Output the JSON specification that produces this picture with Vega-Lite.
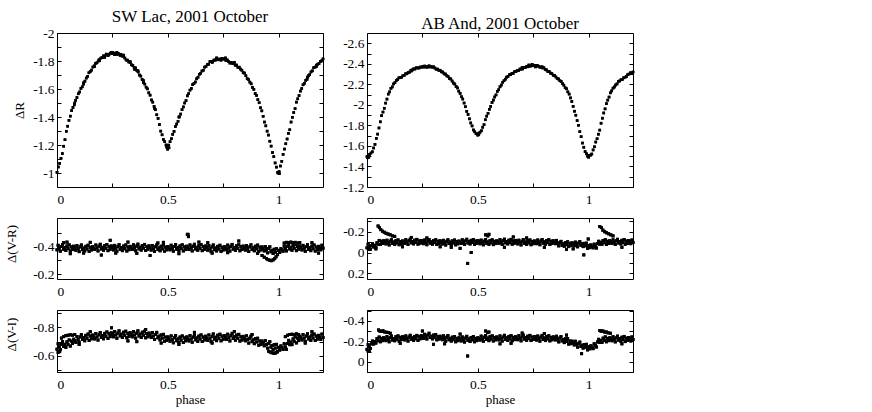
{
"$schema": "https://vega.github.io/schema/vega-lite/v6.json",
"background": "white",
"padding": {"left": 4, "top": 7, "right": 0, "bottom": 0},
"config": {
 "font": "Liberation Serif",
 "view": {"stroke": "black", "strokeWidth": 1},
 "axis": {"grid": false, "domain": false, "tickColor": "black", "tickSize": -4, "tickWidth": 1, "labelColor": "black", "titleColor": "black", "labelFont": "Liberation Serif", "titleFont": "Liberation Serif", "labelFontSize": 13.5, "titleFontSize": 13, "titleFontWeight": "normal"},
 "axisLeft": {"labelPadding": 7},
 "axisBottom": {"labelPadding": 9},
 "title": {"font": "Liberation Serif", "fontSize": 17, "fontWeight": "normal", "color": "black", "anchor": "middle", "frame": "group", "baseline": "alphabetic", "offset": 0, "dy": 4}
},
"datasets": {
"swR": [
{"p":0,"v":-1.005},{"p":0.006,"v":-1.043},{"p":0.012,"v":-1.069},{"p":0.018,"v":-1.105},{"p":0.024,"v":-1.139},{"p":0.03,"v":-1.191},{"p":0.036,"v":-1.238},{"p":0.042,"v":-1.298},{"p":0.048,"v":-1.334},{"p":0.054,"v":-1.376},{"p":0.06,"v":-1.406},{"p":0.066,"v":-1.446},{"p":0.072,"v":-1.468},{"p":0.078,"v":-1.487},{"p":0.084,"v":-1.519},{"p":0.09,"v":-1.539},{"p":0.096,"v":-1.566},{"p":0.102,"v":-1.579},{"p":0.108,"v":-1.604},{"p":0.114,"v":-1.616},{"p":0.12,"v":-1.644},{"p":0.126,"v":-1.656},{"p":0.132,"v":-1.678},{"p":0.138,"v":-1.69},{"p":0.144,"v":-1.716},{"p":0.15,"v":-1.725},{"p":0.156,"v":-1.735},{"p":0.162,"v":-1.757},{"p":0.168,"v":-1.765},{"p":0.174,"v":-1.783},{"p":0.18,"v":-1.787},{"p":0.186,"v":-1.8},{"p":0.192,"v":-1.802},{"p":0.198,"v":-1.821},{"p":0.204,"v":-1.824},{"p":0.21,"v":-1.837},{"p":0.216,"v":-1.835},{"p":0.222,"v":-1.849},{"p":0.228,"v":-1.847},{"p":0.234,"v":-1.845},{"p":0.24,"v":-1.856},{"p":0.246,"v":-1.853},{"p":0.252,"v":-1.86},{"p":0.258,"v":-1.852},{"p":0.264,"v":-1.855},{"p":0.27,"v":-1.847},{"p":0.276,"v":-1.855},{"p":0.282,"v":-1.847},{"p":0.288,"v":-1.848},{"p":0.294,"v":-1.835},{"p":0.3,"v":-1.836},{"p":0.306,"v":-1.821},{"p":0.312,"v":-1.807},{"p":0.318,"v":-1.806},{"p":0.324,"v":-1.793},{"p":0.33,"v":-1.79},{"p":0.336,"v":-1.773},{"p":0.342,"v":-1.768},{"p":0.348,"v":-1.752},{"p":0.354,"v":-1.751},{"p":0.36,"v":-1.733},{"p":0.366,"v":-1.722},{"p":0.372,"v":-1.7},{"p":0.378,"v":-1.692},{"p":0.384,"v":-1.668},{"p":0.39,"v":-1.645},{"p":0.396,"v":-1.635},{"p":0.402,"v":-1.613},{"p":0.408,"v":-1.601},{"p":0.414,"v":-1.573},{"p":0.42,"v":-1.556},{"p":0.426,"v":-1.522},{"p":0.432,"v":-1.506},{"p":0.438,"v":-1.476},{"p":0.444,"v":-1.452},{"p":0.45,"v":-1.416},{"p":0.456,"v":-1.39},{"p":0.462,"v":-1.346},{"p":0.468,"v":-1.299},{"p":0.474,"v":-1.273},{"p":0.48,"v":-1.239},{"p":0.486,"v":-1.224},{"p":0.492,"v":-1.2},{"p":0.498,"v":-1.198},{"p":0.504,"v":-1.199},{"p":0.51,"v":-1.224},{"p":0.516,"v":-1.245},{"p":0.522,"v":-1.276},{"p":0.528,"v":-1.297},{"p":0.534,"v":-1.332},{"p":0.54,"v":-1.35},{"p":0.546,"v":-1.369},{"p":0.552,"v":-1.401},{"p":0.558,"v":-1.421},{"p":0.564,"v":-1.453},{"p":0.57,"v":-1.472},{"p":0.576,"v":-1.5},{"p":0.582,"v":-1.517},{"p":0.588,"v":-1.551},{"p":0.594,"v":-1.567},{"p":0.6,"v":-1.592},{"p":0.606,"v":-1.604},{"p":0.612,"v":-1.631},{"p":0.618,"v":-1.64},{"p":0.624,"v":-1.65},{"p":0.63,"v":-1.673},{"p":0.636,"v":-1.684},{"p":0.642,"v":-1.705},{"p":0.648,"v":-1.712},{"p":0.654,"v":-1.729},{"p":0.66,"v":-1.734},{"p":0.666,"v":-1.756},{"p":0.672,"v":-1.761},{"p":0.678,"v":-1.774},{"p":0.684,"v":-1.777},{"p":0.69,"v":-1.796},{"p":0.696,"v":-1.796},{"p":0.702,"v":-1.796},{"p":0.708,"v":-1.807},{"p":0.714,"v":-1.806},{"p":0.72,"v":-1.815},{"p":0.726,"v":-1.809},{"p":0.732,"v":-1.814},{"p":0.738,"v":-1.809},{"p":0.744,"v":-1.819},{"p":0.75,"v":-1.814},{"p":0.756,"v":-1.814},{"p":0.762,"v":-1.804},{"p":0.768,"v":-1.808},{"p":0.774,"v":-1.796},{"p":0.78,"v":-1.785},{"p":0.786,"v":-1.79},{"p":0.792,"v":-1.782},{"p":0.798,"v":-1.782},{"p":0.804,"v":-1.77},{"p":0.81,"v":-1.771},{"p":0.816,"v":-1.755},{"p":0.822,"v":-1.756},{"p":0.828,"v":-1.742},{"p":0.834,"v":-1.734},{"p":0.84,"v":-1.716},{"p":0.846,"v":-1.714},{"p":0.852,"v":-1.695},{"p":0.858,"v":-1.675},{"p":0.864,"v":-1.668},{"p":0.87,"v":-1.649},{"p":0.876,"v":-1.637},{"p":0.882,"v":-1.611},{"p":0.888,"v":-1.597},{"p":0.894,"v":-1.568},{"p":0.9,"v":-1.554},{"p":0.906,"v":-1.524},{"p":0.912,"v":-1.502},{"p":0.918,"v":-1.466},{"p":0.924,"v":-1.444},{"p":0.93,"v":-1.405},{"p":0.936,"v":-1.364},{"p":0.942,"v":-1.337},{"p":0.948,"v":-1.299},{"p":0.954,"v":-1.271},{"p":0.96,"v":-1.227},{"p":0.966,"v":-1.192},{"p":0.972,"v":-1.146},{"p":0.978,"v":-1.117},{"p":0.984,"v":-1.072},{"p":0.99,"v":-1.042},{"p":0.996,"v":-1.005},{"p":1.002,"v":-1.01},{"p":1.008,"v":-1.05},{"p":1.014,"v":-1.083},{"p":1.02,"v":-1.133},{"p":1.026,"v":-1.171},{"p":1.032,"v":-1.209},{"p":1.038,"v":-1.243},{"p":1.044,"v":-1.283},{"p":1.05,"v":-1.309},{"p":1.056,"v":-1.364},{"p":1.062,"v":-1.398},{"p":1.068,"v":-1.432},{"p":1.074,"v":-1.46},{"p":1.08,"v":-1.506},{"p":1.086,"v":-1.53},{"p":1.092,"v":-1.553},{"p":1.098,"v":-1.585},{"p":1.104,"v":-1.603},{"p":1.11,"v":-1.63},{"p":1.116,"v":-1.64},{"p":1.122,"v":-1.661},{"p":1.128,"v":-1.669},{"p":1.134,"v":-1.694},{"p":1.14,"v":-1.703},{"p":1.146,"v":-1.722},{"p":1.152,"v":-1.73},{"p":1.158,"v":-1.752},{"p":1.164,"v":-1.756},{"p":1.17,"v":-1.76},{"p":1.176,"v":-1.777},{"p":1.182,"v":-1.782},{"p":1.188,"v":-1.797},{"p":1.194,"v":-1.801},{"p":1.2,"v":-1.815},
{"p":0.23,"v":-1.838},{"p":0.245,"v":-1.862},{"p":0.26,"v":-1.845},{"p":0.27,"v":-1.862},{"p":0.285,"v":-1.84},{"p":0.215,"v":-1.826},{"p":0.3,"v":-1.842},{"p":0.33,"v":-1.795},{"p":0.35,"v":-1.74},{"p":0.365,"v":-1.73},{"p":0.499,"v":-1.17},{"p":0.495,"v":-1.185},{"p":0.505,"v":-1.18},{"p":0.72,"v":-1.822},{"p":0.74,"v":-1.806},{"p":0.76,"v":-1.822},{"p":0.7,"v":-1.79},{"p":0.8,"v":-1.79},{"p":0.55,"v":-1.4},{"p":0.997,"v":-1.0},{"p":1.003,"v":-0.995},{"p":0.39,"v":-1.66},{"p":0.44,"v":-1.46},{"p":1.13,"v":-1.685},{"p":1.17,"v":-1.77},{"p":0.17,"v":-1.76},{"p":0.19,"v":-1.81},{"p":0.12,"v":-1.635},{"p":0.08,"v":-1.5}
],
"abR": [
{"p":0,"v":-1.496},{"p":0.006,"v":-1.512},{"p":0.012,"v":-1.516},{"p":0.018,"v":-1.531},{"p":0.024,"v":-1.543},{"p":0.03,"v":-1.58},{"p":0.036,"v":-1.615},{"p":0.042,"v":-1.674},{"p":0.048,"v":-1.715},{"p":0.054,"v":-1.775},{"p":0.06,"v":-1.835},{"p":0.066,"v":-1.895},{"p":0.072,"v":-1.93},{"p":0.078,"v":-1.967},{"p":0.084,"v":-2.017},{"p":0.09,"v":-2.056},{"p":0.096,"v":-2.105},{"p":0.102,"v":-2.127},{"p":0.108,"v":-2.161},{"p":0.114,"v":-2.175},{"p":0.12,"v":-2.204},{"p":0.126,"v":-2.216},{"p":0.132,"v":-2.236},{"p":0.138,"v":-2.247},{"p":0.144,"v":-2.263},{"p":0.15,"v":-2.266},{"p":0.156,"v":-2.269},{"p":0.162,"v":-2.284},{"p":0.168,"v":-2.288},{"p":0.174,"v":-2.303},{"p":0.18,"v":-2.303},{"p":0.186,"v":-2.316},{"p":0.192,"v":-2.319},{"p":0.198,"v":-2.337},{"p":0.204,"v":-2.34},{"p":0.21,"v":-2.35},{"p":0.216,"v":-2.349},{"p":0.222,"v":-2.361},{"p":0.228,"v":-2.36},{"p":0.234,"v":-2.359},{"p":0.24,"v":-2.368},{"p":0.246,"v":-2.367},{"p":0.252,"v":-2.375},{"p":0.258,"v":-2.368},{"p":0.264,"v":-2.372},{"p":0.27,"v":-2.366},{"p":0.276,"v":-2.375},{"p":0.282,"v":-2.369},{"p":0.288,"v":-2.372},{"p":0.294,"v":-2.367},{"p":0.3,"v":-2.371},{"p":0.306,"v":-2.359},{"p":0.312,"v":-2.348},{"p":0.318,"v":-2.348},{"p":0.324,"v":-2.337},{"p":0.33,"v":-2.337},{"p":0.336,"v":-2.322},{"p":0.342,"v":-2.319},{"p":0.348,"v":-2.302},{"p":0.354,"v":-2.3},{"p":0.36,"v":-2.283},{"p":0.366,"v":-2.275},{"p":0.372,"v":-2.257},{"p":0.378,"v":-2.252},{"p":0.384,"v":-2.232},{"p":0.39,"v":-2.212},{"p":0.396,"v":-2.203},{"p":0.402,"v":-2.179},{"p":0.408,"v":-2.165},{"p":0.414,"v":-2.134},{"p":0.42,"v":-2.112},{"p":0.426,"v":-2.08},{"p":0.432,"v":-2.057},{"p":0.438,"v":-2.018},{"p":0.444,"v":-1.982},{"p":0.45,"v":-1.937},{"p":0.456,"v":-1.907},{"p":0.462,"v":-1.864},{"p":0.468,"v":-1.824},{"p":0.474,"v":-1.795},{"p":0.48,"v":-1.756},{"p":0.486,"v":-1.738},{"p":0.492,"v":-1.719},{"p":0.498,"v":-1.717},{"p":0.504,"v":-1.711},{"p":0.51,"v":-1.734},{"p":0.516,"v":-1.748},{"p":0.522,"v":-1.782},{"p":0.528,"v":-1.807},{"p":0.534,"v":-1.855},{"p":0.54,"v":-1.89},{"p":0.546,"v":-1.918},{"p":0.552,"v":-1.957},{"p":0.558,"v":-1.985},{"p":0.564,"v":-2.023},{"p":0.57,"v":-2.047},{"p":0.576,"v":-2.077},{"p":0.582,"v":-2.097},{"p":0.588,"v":-2.132},{"p":0.594,"v":-2.148},{"p":0.6,"v":-2.176},{"p":0.606,"v":-2.193},{"p":0.612,"v":-2.22},{"p":0.618,"v":-2.235},{"p":0.624,"v":-2.25},{"p":0.63,"v":-2.27},{"p":0.636,"v":-2.277},{"p":0.642,"v":-2.293},{"p":0.648,"v":-2.295},{"p":0.654,"v":-2.307},{"p":0.66,"v":-2.308},{"p":0.666,"v":-2.324},{"p":0.672,"v":-2.325},{"p":0.678,"v":-2.336},{"p":0.684,"v":-2.336},{"p":0.69,"v":-2.349},{"p":0.696,"v":-2.349},{"p":0.702,"v":-2.35},{"p":0.708,"v":-2.362},{"p":0.714,"v":-2.363},{"p":0.72,"v":-2.374},{"p":0.726,"v":-2.371},{"p":0.732,"v":-2.379},{"p":0.738,"v":-2.378},{"p":0.744,"v":-2.388},{"p":0.75,"v":-2.381},{"p":0.756,"v":-2.384},{"p":0.762,"v":-2.378},{"p":0.768,"v":-2.385},{"p":0.774,"v":-2.376},{"p":0.78,"v":-2.367},{"p":0.786,"v":-2.369},{"p":0.792,"v":-2.36},{"p":0.798,"v":-2.361},{"p":0.804,"v":-2.345},{"p":0.81,"v":-2.34},{"p":0.816,"v":-2.325},{"p":0.822,"v":-2.325},{"p":0.828,"v":-2.309},{"p":0.834,"v":-2.304},{"p":0.84,"v":-2.289},{"p":0.846,"v":-2.287},{"p":0.852,"v":-2.272},{"p":0.858,"v":-2.258},{"p":0.864,"v":-2.252},{"p":0.87,"v":-2.235},{"p":0.876,"v":-2.228},{"p":0.882,"v":-2.207},{"p":0.888,"v":-2.192},{"p":0.894,"v":-2.167},{"p":0.9,"v":-2.157},{"p":0.906,"v":-2.127},{"p":0.912,"v":-2.105},{"p":0.918,"v":-2.068},{"p":0.924,"v":-2.033},{"p":0.93,"v":-1.985},{"p":0.936,"v":-1.938},{"p":0.942,"v":-1.899},{"p":0.948,"v":-1.847},{"p":0.954,"v":-1.801},{"p":0.96,"v":-1.739},{"p":0.966,"v":-1.69},{"p":0.972,"v":-1.628},{"p":0.978,"v":-1.587},{"p":0.984,"v":-1.545},{"p":0.99,"v":-1.524},{"p":0.996,"v":-1.504},{"p":1.002,"v":-1.508},{"p":1.008,"v":-1.51},{"p":1.014,"v":-1.521},{"p":1.02,"v":-1.561},{"p":1.026,"v":-1.592},{"p":1.032,"v":-1.638},{"p":1.038,"v":-1.67},{"p":1.044,"v":-1.714},{"p":1.05,"v":-1.754},{"p":1.056,"v":-1.821},{"p":1.062,"v":-1.87},{"p":1.068,"v":-1.921},{"p":1.074,"v":-1.961},{"p":1.08,"v":-2.012},{"p":1.086,"v":-2.046},{"p":1.092,"v":-2.076},{"p":1.098,"v":-2.117},{"p":1.104,"v":-2.137},{"p":1.11,"v":-2.163},{"p":1.116,"v":-2.174},{"p":1.122,"v":-2.194},{"p":1.128,"v":-2.204},{"p":1.134,"v":-2.229},{"p":1.14,"v":-2.233},{"p":1.146,"v":-2.245},{"p":1.152,"v":-2.248},{"p":1.158,"v":-2.264},{"p":1.164,"v":-2.269},{"p":1.17,"v":-2.276},{"p":1.176,"v":-2.294},{"p":1.182,"v":-2.3},{"p":1.188,"v":-2.312},{"p":1.194,"v":-2.311},{"p":1.2,"v":-2.32},
{"p":0.003,"v":-1.485},{"p":0.008,"v":-1.49},{"p":0.26,"v":-2.378},{"p":0.28,"v":-2.38},{"p":0.745,"v":-2.395},{"p":0.73,"v":-2.388},{"p":0.76,"v":-2.37},{"p":0.5,"v":-1.705},{"p":0.505,"v":-1.724},{"p":1.0,"v":-1.49},{"p":0.997,"v":-1.495},{"p":0.2,"v":-2.33},{"p":0.7,"v":-2.365},{"p":0.79,"v":-2.37}
],
"swVR": [
{"p":0,"v":-0.376},{"p":0.005,"v":-0.409},{"p":0.01,"v":-0.388},{"p":0.015,"v":-0.366},{"p":0.02,"v":-0.4},{"p":0.025,"v":-0.414},{"p":0.03,"v":-0.38},{"p":0.035,"v":-0.392},{"p":0.04,"v":-0.371},{"p":0.045,"v":-0.404},{"p":0.05,"v":-0.385},{"p":0.055,"v":-0.412},{"p":0.06,"v":-0.368},{"p":0.065,"v":-0.397},{"p":0.07,"v":-0.378},{"p":0.075,"v":-0.402},{"p":0.08,"v":-0.39},
{"p":0.085,"v":-0.373},{"p":0.09,"v":-0.406},{"p":0.095,"v":-0.385},{"p":0.1,"v":-0.363},{"p":0.105,"v":-0.397},{"p":0.11,"v":-0.411},{"p":0.115,"v":-0.377},{"p":0.12,"v":-0.389},{"p":0.125,"v":-0.368},{"p":0.13,"v":-0.401},{"p":0.135,"v":-0.382},{"p":0.14,"v":-0.409},{"p":0.145,"v":-0.365},{"p":0.15,"v":-0.394},{"p":0.155,"v":-0.375},{"p":0.16,"v":-0.399},{"p":0.165,"v":-0.387},
{"p":0.17,"v":-0.378},{"p":0.175,"v":-0.411},{"p":0.18,"v":-0.39},{"p":0.185,"v":-0.368},{"p":0.19,"v":-0.402},{"p":0.195,"v":-0.416},{"p":0.2,"v":-0.382},{"p":0.205,"v":-0.394},{"p":0.21,"v":-0.373},{"p":0.215,"v":-0.406},{"p":0.22,"v":-0.387},{"p":0.225,"v":-0.414},{"p":0.23,"v":-0.37},{"p":0.235,"v":-0.399},{"p":0.24,"v":-0.38},{"p":0.245,"v":-0.404},{"p":0.25,"v":-0.392},
{"p":0.255,"v":-0.375},{"p":0.26,"v":-0.408},{"p":0.265,"v":-0.387},{"p":0.27,"v":-0.365},{"p":0.275,"v":-0.399},{"p":0.28,"v":-0.413},{"p":0.285,"v":-0.379},{"p":0.29,"v":-0.391},{"p":0.295,"v":-0.37},{"p":0.3,"v":-0.403},{"p":0.305,"v":-0.384},{"p":0.31,"v":-0.411},{"p":0.315,"v":-0.367},{"p":0.32,"v":-0.396},{"p":0.325,"v":-0.377},{"p":0.33,"v":-0.401},{"p":0.335,"v":-0.389},
{"p":0.34,"v":-0.379},{"p":0.345,"v":-0.412},{"p":0.35,"v":-0.391},{"p":0.355,"v":-0.369},{"p":0.36,"v":-0.403},{"p":0.365,"v":-0.417},{"p":0.37,"v":-0.383},{"p":0.375,"v":-0.395},{"p":0.38,"v":-0.374},{"p":0.385,"v":-0.407},{"p":0.39,"v":-0.388},{"p":0.395,"v":-0.415},{"p":0.4,"v":-0.371},{"p":0.405,"v":-0.4},{"p":0.41,"v":-0.381},{"p":0.415,"v":-0.405},{"p":0.42,"v":-0.393},
{"p":0.425,"v":-0.374},{"p":0.43,"v":-0.407},{"p":0.435,"v":-0.386},{"p":0.44,"v":-0.364},{"p":0.445,"v":-0.398},{"p":0.45,"v":-0.412},{"p":0.455,"v":-0.378},{"p":0.46,"v":-0.39},{"p":0.465,"v":-0.369},{"p":0.47,"v":-0.402},{"p":0.475,"v":-0.383},{"p":0.48,"v":-0.41},{"p":0.485,"v":-0.366},{"p":0.49,"v":-0.395},{"p":0.495,"v":-0.376},{"p":0.5,"v":-0.4},{"p":0.505,"v":-0.388},
{"p":0.51,"v":-0.376},{"p":0.515,"v":-0.409},{"p":0.52,"v":-0.388},{"p":0.525,"v":-0.366},{"p":0.53,"v":-0.4},{"p":0.535,"v":-0.414},{"p":0.54,"v":-0.38},{"p":0.545,"v":-0.392},{"p":0.55,"v":-0.371},{"p":0.555,"v":-0.404},{"p":0.56,"v":-0.385},{"p":0.565,"v":-0.412},{"p":0.57,"v":-0.368},{"p":0.575,"v":-0.397},{"p":0.58,"v":-0.378},{"p":0.585,"v":-0.402},{"p":0.59,"v":-0.39},
{"p":0.595,"v":-0.378},{"p":0.6,"v":-0.411},{"p":0.605,"v":-0.39},{"p":0.61,"v":-0.368},{"p":0.615,"v":-0.402},{"p":0.62,"v":-0.416},{"p":0.625,"v":-0.382},{"p":0.63,"v":-0.394},{"p":0.635,"v":-0.373},{"p":0.64,"v":-0.406},{"p":0.645,"v":-0.387},{"p":0.65,"v":-0.414},{"p":0.655,"v":-0.37},{"p":0.66,"v":-0.399},{"p":0.665,"v":-0.38},{"p":0.67,"v":-0.404},{"p":0.675,"v":-0.392},
{"p":0.68,"v":-0.373},{"p":0.685,"v":-0.406},{"p":0.69,"v":-0.385},{"p":0.695,"v":-0.363},{"p":0.7,"v":-0.397},{"p":0.705,"v":-0.411},{"p":0.71,"v":-0.377},{"p":0.715,"v":-0.389},{"p":0.72,"v":-0.368},{"p":0.725,"v":-0.401},{"p":0.73,"v":-0.382},{"p":0.735,"v":-0.409},{"p":0.74,"v":-0.365},{"p":0.745,"v":-0.394},{"p":0.75,"v":-0.375},{"p":0.755,"v":-0.399},{"p":0.76,"v":-0.387},
{"p":0.765,"v":-0.377},{"p":0.77,"v":-0.41},{"p":0.775,"v":-0.389},{"p":0.78,"v":-0.367},{"p":0.785,"v":-0.401},{"p":0.79,"v":-0.415},{"p":0.795,"v":-0.381},{"p":0.8,"v":-0.393},{"p":0.805,"v":-0.372},{"p":0.81,"v":-0.405},{"p":0.815,"v":-0.386},{"p":0.82,"v":-0.413},{"p":0.825,"v":-0.369},{"p":0.83,"v":-0.398},{"p":0.835,"v":-0.379},{"p":0.84,"v":-0.403},{"p":0.845,"v":-0.391},
{"p":0.85,"v":-0.374},{"p":0.855,"v":-0.407},{"p":0.86,"v":-0.386},{"p":0.865,"v":-0.364},{"p":0.87,"v":-0.398},{"p":0.875,"v":-0.412},{"p":0.88,"v":-0.378},{"p":0.885,"v":-0.39},{"p":0.89,"v":-0.369},{"p":0.895,"v":-0.402},{"p":0.9,"v":-0.383},{"p":0.905,"v":-0.41},{"p":0.91,"v":-0.366},{"p":0.915,"v":-0.395},{"p":0.92,"v":-0.375},{"p":0.925,"v":-0.397},{"p":0.93,"v":-0.384},
{"p":0.935,"v":-0.368},{"p":0.94,"v":-0.4},{"p":0.945,"v":-0.377},{"p":0.95,"v":-0.354},{"p":0.955,"v":-0.386},{"p":0.96,"v":-0.398},{"p":0.965,"v":-0.362},{"p":0.97,"v":-0.372},{"p":0.975,"v":-0.349},{"p":0.98,"v":-0.38},{"p":0.985,"v":-0.359},{"p":0.99,"v":-0.384},{"p":0.995,"v":-0.341},{"p":1,"v":-0.372},{"p":1.005,"v":-0.357},{"p":1.01,"v":-0.384},{"p":1.015,"v":-0.376},
{"p":1.02,"v":-0.366},{"p":1.025,"v":-0.403},{"p":1.03,"v":-0.385},{"p":1.035,"v":-0.368},{"p":1.04,"v":-0.402},{"p":1.045,"v":-0.416},{"p":1.05,"v":-0.382},{"p":1.055,"v":-0.394},{"p":1.06,"v":-0.373},{"p":1.065,"v":-0.406},{"p":1.07,"v":-0.387},{"p":1.075,"v":-0.414},{"p":1.08,"v":-0.37},{"p":1.085,"v":-0.399},{"p":1.09,"v":-0.38},{"p":1.095,"v":-0.404},{"p":1.1,"v":-0.392},
{"p":1.105,"v":-0.375},{"p":1.11,"v":-0.408},{"p":1.115,"v":-0.387},{"p":1.12,"v":-0.365},{"p":1.125,"v":-0.399},{"p":1.13,"v":-0.413},{"p":1.135,"v":-0.379},{"p":1.14,"v":-0.391},{"p":1.145,"v":-0.37},{"p":1.15,"v":-0.403},{"p":1.155,"v":-0.384},{"p":1.16,"v":-0.411},{"p":1.165,"v":-0.367},{"p":1.17,"v":-0.396},{"p":1.175,"v":-0.377},{"p":1.18,"v":-0.401},{"p":1.185,"v":-0.389},
{"p":1.19,"v":-0.376},{"p":1.195,"v":-0.409},{"p":1.2,"v":-0.388},
{"p":0.925,"v":-0.335},{"p":0.935,"v":-0.322},{"p":0.945,"v":-0.312},{"p":0.952,"v":-0.305},{"p":0.96,"v":-0.3},{"p":0.967,"v":-0.297},{"p":0.975,"v":-0.303},{"p":0.982,"v":-0.312},{"p":0.988,"v":-0.325},{"p":1.025,"v":-0.425},{"p":1.035,"v":-0.43},{"p":1.045,"v":-0.428},{"p":1.055,"v":-0.432},{"p":1.065,"v":-0.427},{"p":1.075,"v":-0.43},{"p":1.085,"v":-0.425},{"p":1.095,"v":-0.428},{"p":0.588,"v":-0.488},{"p":0.591,"v":-0.488},{"p":0.593,"v":-0.472},{"p":0.24,"v":-0.445},{"p":0.42,"v":-0.335},{"p":0.2,"v":-0.338},{"p":0.82,"v":-0.44},{"p":0.06,"v":-0.348},{"p":0.36,"v":-0.35},{"p":0.7,"v":-0.352},{"p":0.15,"v":-0.43},{"p":0.48,"v":-0.43},{"p":0.64,"v":-0.432},{"p":1.15,"v":-0.428},{"p":0.905,"v":-0.35},{"p":0.32,"v":-0.432},{"p":0.03,"v":-0.428},{"p":0.045,"v":-0.432},{"p":0.55,"v":-0.348},{"p":0.265,"v":-0.352},{"p":0.77,"v":-0.355},{"p":0.455,"v":-0.426},{"p":1.18,"v":-0.352},{"p":0.12,"v":-0.352},{"p":0.68,"v":-0.428}
],
"abVR": [
{"p":0,"v":-0.045},{"p":0.005,"v":-0.079},{"p":0.01,"v":-0.055},{"p":0.015,"v":-0.031},{"p":0.02,"v":-0.065},{"p":0.025,"v":-0.084},{"p":0.03,"v":-0.053},{"p":0.035,"v":-0.069},{"p":0.04,"v":-0.05},{"p":0.045,"v":-0.093},{"p":0.05,"v":-0.08},{"p":0.055,"v":-0.116},{"p":0.06,"v":-0.077},{"p":0.065,"v":-0.108},{"p":0.07,"v":-0.087},{"p":0.075,"v":-0.113},{"p":0.08,"v":-0.1},
{"p":0.085,"v":-0.083},{"p":0.09,"v":-0.118},{"p":0.095,"v":-0.095},{"p":0.1,"v":-0.073},{"p":0.105,"v":-0.108},{"p":0.11,"v":-0.123},{"p":0.115,"v":-0.088},{"p":0.12,"v":-0.101},{"p":0.125,"v":-0.078},{"p":0.13,"v":-0.113},{"p":0.135,"v":-0.093},{"p":0.14,"v":-0.121},{"p":0.145,"v":-0.075},{"p":0.15,"v":-0.106},{"p":0.155,"v":-0.085},{"p":0.16,"v":-0.111},{"p":0.165,"v":-0.098},
{"p":0.17,"v":-0.088},{"p":0.175,"v":-0.123},{"p":0.18,"v":-0.1},{"p":0.185,"v":-0.078},{"p":0.19,"v":-0.113},{"p":0.195,"v":-0.128},{"p":0.2,"v":-0.093},{"p":0.205,"v":-0.106},{"p":0.21,"v":-0.083},{"p":0.215,"v":-0.118},{"p":0.22,"v":-0.098},{"p":0.225,"v":-0.126},{"p":0.23,"v":-0.08},{"p":0.235,"v":-0.111},{"p":0.24,"v":-0.09},{"p":0.245,"v":-0.116},{"p":0.25,"v":-0.103},
{"p":0.255,"v":-0.085},{"p":0.26,"v":-0.12},{"p":0.265,"v":-0.097},{"p":0.27,"v":-0.075},{"p":0.275,"v":-0.11},{"p":0.28,"v":-0.125},{"p":0.285,"v":-0.09},{"p":0.29,"v":-0.103},{"p":0.295,"v":-0.08},{"p":0.3,"v":-0.115},{"p":0.305,"v":-0.095},{"p":0.31,"v":-0.123},{"p":0.315,"v":-0.077},{"p":0.32,"v":-0.108},{"p":0.325,"v":-0.087},{"p":0.33,"v":-0.113},{"p":0.335,"v":-0.1},
{"p":0.34,"v":-0.082},{"p":0.345,"v":-0.117},{"p":0.35,"v":-0.094},{"p":0.355,"v":-0.072},{"p":0.36,"v":-0.107},{"p":0.365,"v":-0.122},{"p":0.37,"v":-0.087},{"p":0.375,"v":-0.1},{"p":0.38,"v":-0.077},{"p":0.385,"v":-0.112},{"p":0.39,"v":-0.092},{"p":0.395,"v":-0.12},{"p":0.4,"v":-0.074},{"p":0.405,"v":-0.105},{"p":0.41,"v":-0.084},{"p":0.415,"v":-0.11},{"p":0.42,"v":-0.097},
{"p":0.425,"v":-0.087},{"p":0.43,"v":-0.122},{"p":0.435,"v":-0.099},{"p":0.44,"v":-0.077},{"p":0.445,"v":-0.112},{"p":0.45,"v":-0.127},{"p":0.455,"v":-0.092},{"p":0.46,"v":-0.105},{"p":0.465,"v":-0.082},{"p":0.47,"v":-0.117},{"p":0.475,"v":-0.097},{"p":0.48,"v":-0.125},{"p":0.485,"v":-0.079},{"p":0.49,"v":-0.11},{"p":0.495,"v":-0.089},{"p":0.5,"v":-0.115},{"p":0.505,"v":-0.102},
{"p":0.51,"v":-0.084},{"p":0.515,"v":-0.119},{"p":0.52,"v":-0.096},{"p":0.525,"v":-0.074},{"p":0.53,"v":-0.109},{"p":0.535,"v":-0.124},{"p":0.54,"v":-0.089},{"p":0.545,"v":-0.102},{"p":0.55,"v":-0.079},{"p":0.555,"v":-0.114},{"p":0.56,"v":-0.094},{"p":0.565,"v":-0.122},{"p":0.57,"v":-0.076},{"p":0.575,"v":-0.107},{"p":0.58,"v":-0.086},{"p":0.585,"v":-0.112},{"p":0.59,"v":-0.099},
{"p":0.595,"v":-0.088},{"p":0.6,"v":-0.123},{"p":0.605,"v":-0.1},{"p":0.61,"v":-0.078},{"p":0.615,"v":-0.113},{"p":0.62,"v":-0.128},{"p":0.625,"v":-0.093},{"p":0.63,"v":-0.106},{"p":0.635,"v":-0.083},{"p":0.64,"v":-0.118},{"p":0.645,"v":-0.098},{"p":0.65,"v":-0.126},{"p":0.655,"v":-0.08},{"p":0.66,"v":-0.111},{"p":0.665,"v":-0.09},{"p":0.67,"v":-0.116},{"p":0.675,"v":-0.103},
{"p":0.68,"v":-0.083},{"p":0.685,"v":-0.118},{"p":0.69,"v":-0.095},{"p":0.695,"v":-0.073},{"p":0.7,"v":-0.108},{"p":0.705,"v":-0.123},{"p":0.71,"v":-0.088},{"p":0.715,"v":-0.101},{"p":0.72,"v":-0.078},{"p":0.725,"v":-0.113},{"p":0.73,"v":-0.093},{"p":0.735,"v":-0.121},{"p":0.74,"v":-0.075},{"p":0.745,"v":-0.106},{"p":0.75,"v":-0.085},{"p":0.755,"v":-0.111},{"p":0.76,"v":-0.098},
{"p":0.765,"v":-0.085},{"p":0.77,"v":-0.12},{"p":0.775,"v":-0.097},{"p":0.78,"v":-0.075},{"p":0.785,"v":-0.11},{"p":0.79,"v":-0.125},{"p":0.795,"v":-0.09},{"p":0.8,"v":-0.103},{"p":0.805,"v":-0.08},{"p":0.81,"v":-0.115},{"p":0.815,"v":-0.095},{"p":0.82,"v":-0.123},{"p":0.825,"v":-0.077},{"p":0.83,"v":-0.108},{"p":0.835,"v":-0.087},{"p":0.84,"v":-0.113},{"p":0.845,"v":-0.1},
{"p":0.85,"v":-0.085},{"p":0.855,"v":-0.116},{"p":0.86,"v":-0.09},{"p":0.865,"v":-0.064},{"p":0.87,"v":-0.095},{"p":0.875,"v":-0.107},{"p":0.88,"v":-0.07},{"p":0.885,"v":-0.083},{"p":0.89,"v":-0.06},{"p":0.895,"v":-0.095},{"p":0.9,"v":-0.075},{"p":0.905,"v":-0.103},{"p":0.91,"v":-0.057},{"p":0.915,"v":-0.088},{"p":0.92,"v":-0.067},{"p":0.925,"v":-0.093},{"p":0.93,"v":-0.08},
{"p":0.935,"v":-0.065},{"p":0.94,"v":-0.1},{"p":0.945,"v":-0.077},{"p":0.95,"v":-0.055},{"p":0.955,"v":-0.09},{"p":0.96,"v":-0.105},{"p":0.965,"v":-0.07},{"p":0.97,"v":-0.083},{"p":0.975,"v":-0.057},{"p":0.98,"v":-0.088},{"p":0.985,"v":-0.065},{"p":0.99,"v":-0.09},{"p":0.995,"v":-0.04},{"p":1,"v":-0.068},{"p":1.005,"v":-0.047},{"p":1.01,"v":-0.073},{"p":1.015,"v":-0.06},
{"p":1.02,"v":-0.045},{"p":1.025,"v":-0.08},{"p":1.03,"v":-0.057},{"p":1.035,"v":-0.043},{"p":1.04,"v":-0.085},{"p":1.045,"v":-0.108},{"p":1.05,"v":-0.08},{"p":1.055,"v":-0.098},{"p":1.06,"v":-0.08},{"p":1.065,"v":-0.115},{"p":1.07,"v":-0.095},{"p":1.075,"v":-0.123},{"p":1.08,"v":-0.077},{"p":1.085,"v":-0.108},{"p":1.09,"v":-0.087},{"p":1.095,"v":-0.113},{"p":1.1,"v":-0.1},
{"p":1.105,"v":-0.087},{"p":1.11,"v":-0.122},{"p":1.115,"v":-0.099},{"p":1.12,"v":-0.077},{"p":1.125,"v":-0.112},{"p":1.13,"v":-0.127},{"p":1.135,"v":-0.092},{"p":1.14,"v":-0.105},{"p":1.145,"v":-0.082},{"p":1.15,"v":-0.117},{"p":1.155,"v":-0.097},{"p":1.16,"v":-0.125},{"p":1.165,"v":-0.079},{"p":1.17,"v":-0.11},{"p":1.175,"v":-0.089},{"p":1.18,"v":-0.115},{"p":1.185,"v":-0.102},
{"p":1.19,"v":-0.085},{"p":1.195,"v":-0.12},{"p":1.2,"v":-0.097},
{"p":0.05,"v":-0.255},{"p":0.056,"v":-0.24},{"p":0.062,"v":-0.22},{"p":0.07,"v":-0.205},{"p":0.078,"v":-0.195},{"p":0.086,"v":-0.185},{"p":0.095,"v":-0.178},{"p":0.105,"v":-0.17},{"p":0.115,"v":-0.16},{"p":0.125,"v":-0.155},{"p":1.05,"v":-0.25},{"p":1.057,"v":-0.24},{"p":1.064,"v":-0.215},{"p":1.072,"v":-0.2},{"p":1.08,"v":-0.19},{"p":1.09,"v":-0.18},{"p":1.1,"v":-0.17},{"p":1.11,"v":-0.16},{"p":0.454,"v":0.105},{"p":0.47,"v":0.0},{"p":0.535,"v":-0.17},{"p":0.545,"v":-0.16},{"p":0.55,"v":-0.175},{"p":0.978,"v":0.023},{"p":0.998,"v":-0.13},{"p":0.33,"v":-0.055},{"p":0.38,"v":-0.05},{"p":0.62,"v":-0.05},{"p":0.9,"v":-0.03},{"p":0.93,"v":-0.035},{"p":0.72,"v":-0.14},{"p":0.2,"v":-0.145},{"p":0.27,"v":-0.14},{"p":0.42,"v":-0.04},{"p":0.66,"v":-0.15},{"p":0.8,"v":-0.05},{"p":0.16,"v":-0.055},{"p":1.15,"v":-0.05},{"p":0.04,"v":-0.035},{"p":0.01,"v":-0.03}
],
"swVI": [
{"p":0,"v":-0.647},{"p":0.005,"v":-0.686},{"p":0.01,"v":-0.664},{"p":0.015,"v":-0.644},{"p":0.02,"v":-0.682},{"p":0.025,"v":-0.7},{"p":0.03,"v":-0.666},{"p":0.035,"v":-0.681},{"p":0.04,"v":-0.66},{"p":0.045,"v":-0.699},{"p":0.05,"v":-0.68},{"p":0.055,"v":-0.712},{"p":0.06,"v":-0.669},{"p":0.065,"v":-0.704},{"p":0.07,"v":-0.687},{"p":0.075,"v":-0.717},{"p":0.08,"v":-0.707},
{"p":0.085,"v":-0.695},{"p":0.09,"v":-0.736},{"p":0.095,"v":-0.715},{"p":0.1,"v":-0.696},{"p":0.105,"v":-0.733},{"p":0.11,"v":-0.75},{"p":0.115,"v":-0.715},{"p":0.12,"v":-0.729},{"p":0.125,"v":-0.706},{"p":0.13,"v":-0.744},{"p":0.135,"v":-0.724},{"p":0.14,"v":-0.753},{"p":0.145,"v":-0.708},{"p":0.15,"v":-0.74},{"p":0.155,"v":-0.72},{"p":0.16,"v":-0.746},{"p":0.165,"v":-0.734},
{"p":0.17,"v":-0.719},{"p":0.175,"v":-0.757},{"p":0.18,"v":-0.733},{"p":0.185,"v":-0.711},{"p":0.19,"v":-0.748},{"p":0.195,"v":-0.764},{"p":0.2,"v":-0.729},{"p":0.205,"v":-0.743},{"p":0.21,"v":-0.72},{"p":0.215,"v":-0.758},{"p":0.22,"v":-0.738},{"p":0.225,"v":-0.768},{"p":0.23,"v":-0.723},{"p":0.235,"v":-0.755},{"p":0.24,"v":-0.735},{"p":0.245,"v":-0.762},{"p":0.25,"v":-0.75},
{"p":0.255,"v":-0.734},{"p":0.26,"v":-0.771},{"p":0.265,"v":-0.747},{"p":0.27,"v":-0.724},{"p":0.275,"v":-0.76},{"p":0.28,"v":-0.776},{"p":0.285,"v":-0.74},{"p":0.29,"v":-0.753},{"p":0.295,"v":-0.729},{"p":0.3,"v":-0.766},{"p":0.305,"v":-0.745},{"p":0.31,"v":-0.773},{"p":0.315,"v":-0.727},{"p":0.32,"v":-0.758},{"p":0.325,"v":-0.737},{"p":0.33,"v":-0.763},{"p":0.335,"v":-0.75},
{"p":0.34,"v":-0.734},{"p":0.345,"v":-0.771},{"p":0.35,"v":-0.747},{"p":0.355,"v":-0.724},{"p":0.36,"v":-0.76},{"p":0.365,"v":-0.776},{"p":0.37,"v":-0.74},{"p":0.375,"v":-0.753},{"p":0.38,"v":-0.729},{"p":0.385,"v":-0.766},{"p":0.39,"v":-0.745},{"p":0.395,"v":-0.773},{"p":0.4,"v":-0.727},{"p":0.405,"v":-0.757},{"p":0.41,"v":-0.735},{"p":0.415,"v":-0.76},{"p":0.42,"v":-0.746},
{"p":0.425,"v":-0.729},{"p":0.43,"v":-0.764},{"p":0.435,"v":-0.739},{"p":0.44,"v":-0.715},{"p":0.445,"v":-0.75},{"p":0.45,"v":-0.765},{"p":0.455,"v":-0.727},{"p":0.46,"v":-0.738},{"p":0.465,"v":-0.712},{"p":0.47,"v":-0.747},{"p":0.475,"v":-0.725},{"p":0.48,"v":-0.751},{"p":0.485,"v":-0.703},{"p":0.49,"v":-0.732},{"p":0.495,"v":-0.709},{"p":0.5,"v":-0.733},{"p":0.505,"v":-0.72},
{"p":0.51,"v":-0.703},{"p":0.515,"v":-0.74},{"p":0.52,"v":-0.715},{"p":0.525,"v":-0.692},{"p":0.53,"v":-0.727},{"p":0.535,"v":-0.743},{"p":0.54,"v":-0.706},{"p":0.545,"v":-0.719},{"p":0.55,"v":-0.694},{"p":0.555,"v":-0.732},{"p":0.56,"v":-0.711},{"p":0.565,"v":-0.74},{"p":0.57,"v":-0.694},{"p":0.575,"v":-0.726},{"p":0.58,"v":-0.706},{"p":0.585,"v":-0.733},{"p":0.59,"v":-0.72},
{"p":0.595,"v":-0.705},{"p":0.6,"v":-0.743},{"p":0.605,"v":-0.719},{"p":0.61,"v":-0.696},{"p":0.615,"v":-0.732},{"p":0.62,"v":-0.748},{"p":0.625,"v":-0.713},{"p":0.63,"v":-0.726},{"p":0.635,"v":-0.702},{"p":0.64,"v":-0.739},{"p":0.645,"v":-0.719},{"p":0.65,"v":-0.747},{"p":0.655,"v":-0.701},{"p":0.66,"v":-0.732},{"p":0.665,"v":-0.712},{"p":0.67,"v":-0.738},{"p":0.675,"v":-0.725},
{"p":0.68,"v":-0.709},{"p":0.685,"v":-0.747},{"p":0.69,"v":-0.723},{"p":0.695,"v":-0.7},{"p":0.7,"v":-0.737},{"p":0.705,"v":-0.754},{"p":0.71,"v":-0.718},{"p":0.715,"v":-0.731},{"p":0.72,"v":-0.707},{"p":0.725,"v":-0.745},{"p":0.73,"v":-0.724},{"p":0.735,"v":-0.752},{"p":0.74,"v":-0.706},{"p":0.745,"v":-0.738},{"p":0.75,"v":-0.717},{"p":0.755,"v":-0.743},{"p":0.76,"v":-0.73},
{"p":0.765,"v":-0.715},{"p":0.77,"v":-0.752},{"p":0.775,"v":-0.728},{"p":0.78,"v":-0.705},{"p":0.785,"v":-0.742},{"p":0.79,"v":-0.758},{"p":0.795,"v":-0.722},{"p":0.8,"v":-0.735},{"p":0.805,"v":-0.71},{"p":0.81,"v":-0.746},{"p":0.815,"v":-0.724},{"p":0.82,"v":-0.751},{"p":0.825,"v":-0.704},{"p":0.83,"v":-0.734},{"p":0.835,"v":-0.712},{"p":0.84,"v":-0.737},{"p":0.845,"v":-0.723},
{"p":0.85,"v":-0.706},{"p":0.855,"v":-0.741},{"p":0.86,"v":-0.715},{"p":0.865,"v":-0.69},{"p":0.87,"v":-0.724},{"p":0.875,"v":-0.738},{"p":0.88,"v":-0.7},{"p":0.885,"v":-0.712},{"p":0.89,"v":-0.686},{"p":0.895,"v":-0.721},{"p":0.9,"v":-0.698},{"p":0.905,"v":-0.724},{"p":0.91,"v":-0.675},{"p":0.915,"v":-0.704},{"p":0.92,"v":-0.681},{"p":0.925,"v":-0.704},{"p":0.93,"v":-0.689},
{"p":0.935,"v":-0.671},{"p":0.94,"v":-0.706},{"p":0.945,"v":-0.679},{"p":0.95,"v":-0.654},{"p":0.955,"v":-0.687},{"p":0.96,"v":-0.7},{"p":0.965,"v":-0.662},{"p":0.97,"v":-0.672},{"p":0.975,"v":-0.645},{"p":0.98,"v":-0.679},{"p":0.985,"v":-0.655},{"p":0.99,"v":-0.681},{"p":0.995,"v":-0.632},{"p":1,"v":-0.66},{"p":1.005,"v":-0.641},{"p":1.01,"v":-0.67},{"p":1.015,"v":-0.659},
{"p":1.02,"v":-0.645},{"p":1.025,"v":-0.685},{"p":1.03,"v":-0.663},{"p":1.035,"v":-0.646},{"p":1.04,"v":-0.687},{"p":1.045,"v":-0.709},{"p":1.05,"v":-0.679},{"p":1.055,"v":-0.697},{"p":1.06,"v":-0.679},{"p":1.065,"v":-0.719},{"p":1.07,"v":-0.702},{"p":1.075,"v":-0.733},{"p":1.08,"v":-0.691},{"p":1.085,"v":-0.725},{"p":1.09,"v":-0.707},{"p":1.095,"v":-0.737},{"p":1.1,"v":-0.727},
{"p":1.105,"v":-0.712},{"p":1.11,"v":-0.749},{"p":1.115,"v":-0.725},{"p":1.12,"v":-0.702},{"p":1.125,"v":-0.739},{"p":1.13,"v":-0.755},{"p":1.135,"v":-0.719},{"p":1.14,"v":-0.732},{"p":1.145,"v":-0.709},{"p":1.15,"v":-0.746},{"p":1.155,"v":-0.725},{"p":1.16,"v":-0.753},{"p":1.165,"v":-0.708},{"p":1.17,"v":-0.739},{"p":1.175,"v":-0.718},{"p":1.18,"v":-0.744},{"p":1.185,"v":-0.732},
{"p":1.19,"v":-0.716},{"p":1.195,"v":-0.753},{"p":1.2,"v":-0.729},
{"p":0.02,"v":-0.725},{"p":0.03,"v":-0.735},{"p":0.04,"v":-0.742},{"p":0.05,"v":-0.745},{"p":0.06,"v":-0.748},{"p":0.07,"v":-0.745},{"p":0.08,"v":-0.75},{"p":1.03,"v":-0.735},{"p":1.04,"v":-0.745},{"p":1.05,"v":-0.75},{"p":1.06,"v":-0.752},{"p":1.07,"v":-0.748},{"p":1.08,"v":-0.755},{"p":1.09,"v":-0.75},{"p":0.955,"v":-0.632},{"p":0.962,"v":-0.627},{"p":0.97,"v":-0.622},{"p":0.978,"v":-0.618},{"p":0.985,"v":-0.62},{"p":0.992,"v":-0.626},{"p":0.246,"v":-0.797},{"p":0.1,"v":-0.68},{"p":0.55,"v":-0.68},{"p":0.32,"v":-0.705},{"p":0.62,"v":-0.765},{"p":0.4,"v":-0.785},{"p":0.7,"v":-0.69},{"p":0.15,"v":-0.77},{"p":0.88,"v":-0.75},{"p":0.47,"v":-0.69},{"p":0.8,"v":-0.77},{"p":0.36,"v":-0.7},{"p":1.15,"v":-0.77},{"p":1.12,"v":-0.69},{"p":0.005,"v":-0.625},{"p":0.012,"v":-0.63}
],
"abVI": [
{"p":0,"v":-0.121},{"p":0.005,"v":-0.166},{"p":0.01,"v":-0.148},{"p":0.015,"v":-0.129},{"p":0.02,"v":-0.175},{"p":0.025,"v":-0.202},{"p":0.03,"v":-0.173},{"p":0.035,"v":-0.197},{"p":0.04,"v":-0.182},{"p":0.045,"v":-0.225},{"p":0.05,"v":-0.206},{"p":0.055,"v":-0.241},{"p":0.06,"v":-0.195},{"p":0.065,"v":-0.228},{"p":0.07,"v":-0.206},{"p":0.075,"v":-0.234},{"p":0.08,"v":-0.22},
{"p":0.085,"v":-0.206},{"p":0.09,"v":-0.245},{"p":0.095,"v":-0.22},{"p":0.1,"v":-0.195},{"p":0.105,"v":-0.234},{"p":0.11,"v":-0.251},{"p":0.115,"v":-0.212},{"p":0.12,"v":-0.226},{"p":0.125,"v":-0.205},{"p":0.13,"v":-0.244},{"p":0.135,"v":-0.221},{"p":0.14,"v":-0.252},{"p":0.145,"v":-0.202},{"p":0.15,"v":-0.238},{"p":0.155,"v":-0.216},{"p":0.16,"v":-0.244},{"p":0.165,"v":-0.23},
{"p":0.17,"v":-0.213},{"p":0.175,"v":-0.252},{"p":0.18,"v":-0.227},{"p":0.185,"v":-0.202},{"p":0.19,"v":-0.241},{"p":0.195,"v":-0.258},{"p":0.2,"v":-0.219},{"p":0.205,"v":-0.233},{"p":0.21,"v":-0.208},{"p":0.215,"v":-0.247},{"p":0.22,"v":-0.224},{"p":0.225,"v":-0.257},{"p":0.23,"v":-0.209},{"p":0.235,"v":-0.244},{"p":0.24,"v":-0.224},{"p":0.245,"v":-0.254},{"p":0.25,"v":-0.242},
{"p":0.255,"v":-0.227},{"p":0.26,"v":-0.268},{"p":0.265,"v":-0.245},{"p":0.27,"v":-0.222},{"p":0.275,"v":-0.261},{"p":0.28,"v":-0.278},{"p":0.285,"v":-0.237},{"p":0.29,"v":-0.249},{"p":0.295,"v":-0.223},{"p":0.3,"v":-0.26},{"p":0.305,"v":-0.236},{"p":0.31,"v":-0.265},{"p":0.315,"v":-0.214},{"p":0.32,"v":-0.246},{"p":0.325,"v":-0.222},{"p":0.33,"v":-0.249},{"p":0.335,"v":-0.233},
{"p":0.34,"v":-0.215},{"p":0.345,"v":-0.253},{"p":0.35,"v":-0.227},{"p":0.355,"v":-0.201},{"p":0.36,"v":-0.239},{"p":0.365,"v":-0.255},{"p":0.37,"v":-0.215},{"p":0.375,"v":-0.228},{"p":0.38,"v":-0.202},{"p":0.385,"v":-0.24},{"p":0.39,"v":-0.216},{"p":0.395,"v":-0.246},{"p":0.4,"v":-0.195},{"p":0.405,"v":-0.228},{"p":0.41,"v":-0.206},{"p":0.415,"v":-0.234},{"p":0.42,"v":-0.22},
{"p":0.425,"v":-0.203},{"p":0.43,"v":-0.242},{"p":0.435,"v":-0.217},{"p":0.44,"v":-0.192},{"p":0.445,"v":-0.231},{"p":0.45,"v":-0.248},{"p":0.455,"v":-0.209},{"p":0.46,"v":-0.223},{"p":0.465,"v":-0.198},{"p":0.47,"v":-0.237},{"p":0.475,"v":-0.214},{"p":0.48,"v":-0.245},{"p":0.485,"v":-0.195},{"p":0.49,"v":-0.228},{"p":0.495,"v":-0.206},{"p":0.5,"v":-0.234},{"p":0.505,"v":-0.225},
{"p":0.51,"v":-0.211},{"p":0.515,"v":-0.25},{"p":0.52,"v":-0.225},{"p":0.525,"v":-0.2},{"p":0.53,"v":-0.239},{"p":0.535,"v":-0.256},{"p":0.54,"v":-0.217},{"p":0.545,"v":-0.231},{"p":0.55,"v":-0.206},{"p":0.555,"v":-0.245},{"p":0.56,"v":-0.222},{"p":0.565,"v":-0.253},{"p":0.57,"v":-0.203},{"p":0.575,"v":-0.236},{"p":0.58,"v":-0.214},{"p":0.585,"v":-0.242},{"p":0.59,"v":-0.228},
{"p":0.595,"v":-0.213},{"p":0.6,"v":-0.252},{"p":0.605,"v":-0.227},{"p":0.61,"v":-0.202},{"p":0.615,"v":-0.241},{"p":0.62,"v":-0.258},{"p":0.625,"v":-0.219},{"p":0.63,"v":-0.233},{"p":0.635,"v":-0.208},{"p":0.64,"v":-0.247},{"p":0.645,"v":-0.224},{"p":0.65,"v":-0.255},{"p":0.655,"v":-0.205},{"p":0.66,"v":-0.238},{"p":0.665,"v":-0.216},{"p":0.67,"v":-0.244},{"p":0.675,"v":-0.23},
{"p":0.68,"v":-0.215},{"p":0.685,"v":-0.254},{"p":0.69,"v":-0.229},{"p":0.695,"v":-0.204},{"p":0.7,"v":-0.243},{"p":0.705,"v":-0.26},{"p":0.71,"v":-0.221},{"p":0.715,"v":-0.235},{"p":0.72,"v":-0.21},{"p":0.725,"v":-0.249},{"p":0.73,"v":-0.226},{"p":0.735,"v":-0.257},{"p":0.74,"v":-0.207},{"p":0.745,"v":-0.24},{"p":0.75,"v":-0.218},{"p":0.755,"v":-0.246},{"p":0.76,"v":-0.232},
{"p":0.765,"v":-0.212},{"p":0.77,"v":-0.251},{"p":0.775,"v":-0.226},{"p":0.78,"v":-0.201},{"p":0.785,"v":-0.24},{"p":0.79,"v":-0.257},{"p":0.795,"v":-0.218},{"p":0.8,"v":-0.232},{"p":0.805,"v":-0.207},{"p":0.81,"v":-0.246},{"p":0.815,"v":-0.223},{"p":0.82,"v":-0.254},{"p":0.825,"v":-0.204},{"p":0.83,"v":-0.237},{"p":0.835,"v":-0.215},{"p":0.84,"v":-0.243},{"p":0.845,"v":-0.229},
{"p":0.85,"v":-0.213},{"p":0.855,"v":-0.249},{"p":0.86,"v":-0.222},{"p":0.865,"v":-0.194},{"p":0.87,"v":-0.231},{"p":0.875,"v":-0.245},{"p":0.88,"v":-0.203},{"p":0.885,"v":-0.215},{"p":0.89,"v":-0.187},{"p":0.895,"v":-0.224},{"p":0.9,"v":-0.198},{"p":0.905,"v":-0.226},{"p":0.91,"v":-0.172},{"p":0.915,"v":-0.202},{"p":0.92,"v":-0.177},{"p":0.925,"v":-0.201},{"p":0.93,"v":-0.184},
{"p":0.935,"v":-0.164},{"p":0.94,"v":-0.2},{"p":0.945,"v":-0.171},{"p":0.95,"v":-0.143},{"p":0.955,"v":-0.179},{"p":0.96,"v":-0.192},{"p":0.965,"v":-0.15},{"p":0.97,"v":-0.161},{"p":0.975,"v":-0.133},{"p":0.98,"v":-0.168},{"p":0.985,"v":-0.142},{"p":0.99,"v":-0.17},{"p":0.995,"v":-0.116},{"p":1,"v":-0.146},{"p":1.005,"v":-0.126},{"p":1.01,"v":-0.156},{"p":1.015,"v":-0.143},
{"p":1.02,"v":-0.128},{"p":1.025,"v":-0.176},{"p":1.03,"v":-0.16},{"p":1.035,"v":-0.144},{"p":1.04,"v":-0.193},{"p":1.045,"v":-0.219},{"p":1.05,"v":-0.189},{"p":1.055,"v":-0.208},{"p":1.06,"v":-0.188},{"p":1.065,"v":-0.23},{"p":1.07,"v":-0.209},{"p":1.075,"v":-0.243},{"p":1.08,"v":-0.195},{"p":1.085,"v":-0.228},{"p":1.09,"v":-0.206},{"p":1.095,"v":-0.234},{"p":1.1,"v":-0.22},
{"p":1.105,"v":-0.205},{"p":1.11,"v":-0.244},{"p":1.115,"v":-0.219},{"p":1.12,"v":-0.194},{"p":1.125,"v":-0.233},{"p":1.13,"v":-0.25},{"p":1.135,"v":-0.211},{"p":1.14,"v":-0.225},{"p":1.145,"v":-0.2},{"p":1.15,"v":-0.239},{"p":1.155,"v":-0.216},{"p":1.16,"v":-0.247},{"p":1.165,"v":-0.197},{"p":1.17,"v":-0.23},{"p":1.175,"v":-0.208},{"p":1.18,"v":-0.236},{"p":1.185,"v":-0.222},
{"p":1.19,"v":-0.203},{"p":1.195,"v":-0.242},{"p":1.2,"v":-0.217},
{"p":0.052,"v":-0.31},{"p":0.058,"v":-0.3},{"p":0.065,"v":-0.295},{"p":0.072,"v":-0.302},{"p":0.08,"v":-0.29},{"p":0.088,"v":-0.288},{"p":0.096,"v":-0.285},{"p":0.105,"v":-0.278},{"p":1.05,"v":-0.305},{"p":1.056,"v":-0.298},{"p":1.064,"v":-0.3},{"p":1.072,"v":-0.29},{"p":1.08,"v":-0.29},{"p":1.088,"v":-0.282},{"p":1.098,"v":-0.278},{"p":0.454,"v":-0.056},{"p":0.535,"v":-0.3},{"p":0.545,"v":-0.285},{"p":0.55,"v":-0.29},{"p":0.968,"v":-0.079},{"p":0.3,"v":-0.17},{"p":0.35,"v":-0.175},{"p":0.6,"v":-0.175},{"p":0.8,"v":-0.275},{"p":0.15,"v":-0.18},{"p":0.7,"v":-0.28},{"p":0.42,"v":-0.27},{"p":0.9,"v":-0.26},{"p":0.25,"v":-0.3},{"p":0.65,"v":-0.18},{"p":1.15,"v":-0.175},{"p":0.01,"v":-0.1},{"p":0.005,"v":-0.105}
]
},
"columns": 2,
"spacing": {"row": 31, "column": 44},
"bounds": "flush",
"concat": [
{
 "width": 266, "height": 154,
 "title": {"text": "SW Lac, 2001 October"},
 "data": {"name": "swR"},
 "layer": [
  {"mark": {"type": "square", "size": 7, "color": "black", "opacity": 1},
   "encoding": {
    "x": {"field": "p", "type": "quantitative", "scale": {"domain": [0, 1.2], "nice": false, "zero": false}, "axis": {"orient": "bottom", "title": null, "values": [0, 0.25, 0.5, 0.75, 1], "labelExpr": "datum.value == 0.25 || datum.value == 0.75 ? '' : '' + datum.value"}},
    "y": {"field": "v", "type": "quantitative", "scale": {"domain": [-2, -0.9], "reverse": true, "nice": false, "zero": false}, "axis": {"orient": "left", "title": "ΔR", "values": [-2, -1.9, -1.8, -1.7, -1.6, -1.5, -1.4, -1.3, -1.2, -1.1, -1], "labelExpr": "round(datum.value * 10) % 2 == 0 ? '' + datum.value : ''", "titleX": -38, "titleY": 77, "titleAngle": 270, "titleBaseline": "middle", "titleAlign": "center"}}
   }},
  {"mark": {"type": "square", "size": 7, "color": "black", "opacity": 1},
   "encoding": {
    "x": {"field": "p", "type": "quantitative", "scale": {"domain": [0, 1.2], "nice": false, "zero": false}, "axis": {"orient": "top", "title": null, "labels": false, "values": [0, 0.25, 0.5, 0.75, 1]}},
    "y": {"field": "v", "type": "quantitative", "scale": {"domain": [-2, -0.9], "reverse": true, "nice": false, "zero": false}, "axis": {"orient": "right", "title": null, "labels": false, "values": [-2, -1.9, -1.8, -1.7, -1.6, -1.5, -1.4, -1.3, -1.2, -1.1, -1]}}
   }}
 ],
 "resolve": {"axis": {"x": "independent", "y": "independent"}}
},
{
 "width": 266, "height": 154,
 "title": {"text": "AB And, 2001 October"},
 "data": {"name": "abR"},
 "layer": [
  {"mark": {"type": "square", "size": 7, "color": "black", "opacity": 1},
   "encoding": {
    "x": {"field": "p", "type": "quantitative", "scale": {"domain": [0, 1.2], "nice": false, "zero": false}, "axis": {"orient": "bottom", "title": null, "values": [0, 0.25, 0.5, 0.75, 1], "labelExpr": "datum.value == 0.25 || datum.value == 0.75 ? '' : '' + datum.value"}},
    "y": {"field": "v", "type": "quantitative", "scale": {"domain": [-2.7, -1.2], "reverse": true, "nice": false, "zero": false}, "axis": {"orient": "left", "title": null, "values": [-2.6, -2.5, -2.4, -2.3, -2.2, -2.1, -2, -1.9, -1.8, -1.7, -1.6, -1.5, -1.4, -1.3, -1.2], "labelExpr": "round(datum.value * 10) % 2 == 0 ? '' + datum.value : ''"}}
   }},
  {"mark": {"type": "square", "size": 7, "color": "black", "opacity": 1},
   "encoding": {
    "x": {"field": "p", "type": "quantitative", "scale": {"domain": [0, 1.2], "nice": false, "zero": false}, "axis": {"orient": "top", "title": null, "labels": false, "values": [0, 0.25, 0.5, 0.75, 1]}},
    "y": {"field": "v", "type": "quantitative", "scale": {"domain": [-2.7, -1.2], "reverse": true, "nice": false, "zero": false}, "axis": {"orient": "right", "title": null, "labels": false, "values": [-2.6, -2.5, -2.4, -2.3, -2.2, -2.1, -2, -1.9, -1.8, -1.7, -1.6, -1.5, -1.4, -1.3, -1.2]}}
   }}
 ],
 "resolve": {"axis": {"x": "independent", "y": "independent"}}
},
{
 "width": 266, "height": 61,
 "data": {"name": "swVR"},
 "layer": [
  {"mark": {"type": "square", "size": 9, "color": "black", "opacity": 1},
   "encoding": {
    "x": {"field": "p", "type": "quantitative", "scale": {"domain": [0, 1.2], "nice": false, "zero": false}, "axis": {"orient": "bottom", "title": null, "values": [0, 0.25, 0.5, 0.75, 1], "labelExpr": "datum.value == 0.25 || datum.value == 0.75 ? '' : '' + datum.value"}},
    "y": {"field": "v", "type": "quantitative", "scale": {"domain": [-0.607, -0.164], "reverse": true, "nice": false, "zero": false}, "axis": {"orient": "left", "title": "Δ(V-R)", "values": [-0.5, -0.4, -0.3, -0.2], "labelExpr": "round(datum.value * 10) % 2 == 0 ? '' + datum.value : ''", "titleX": -46, "titleY": 25.5, "titleAngle": 270, "titleBaseline": "middle", "titleAlign": "center"}}
   }},
  {"mark": {"type": "square", "size": 9, "color": "black", "opacity": 1},
   "encoding": {
    "x": {"field": "p", "type": "quantitative", "scale": {"domain": [0, 1.2], "nice": false, "zero": false}, "axis": {"orient": "top", "title": null, "labels": false, "values": [0, 0.25, 0.5, 0.75, 1]}},
    "y": {"field": "v", "type": "quantitative", "scale": {"domain": [-0.607, -0.164], "reverse": true, "nice": false, "zero": false}, "axis": {"orient": "right", "title": null, "labels": false, "values": [-0.5, -0.4, -0.3, -0.2]}}
   }}
 ],
 "resolve": {"axis": {"x": "independent", "y": "independent"}}
},
{
 "width": 266, "height": 61,
 "data": {"name": "abVR"},
 "layer": [
  {"mark": {"type": "square", "size": 9, "color": "black", "opacity": 1},
   "encoding": {
    "x": {"field": "p", "type": "quantitative", "scale": {"domain": [0, 1.2], "nice": false, "zero": false}, "axis": {"orient": "bottom", "title": null, "values": [0, 0.25, 0.5, 0.75, 1], "labelExpr": "datum.value == 0.25 || datum.value == 0.75 ? '' : '' + datum.value"}},
    "y": {"field": "v", "type": "quantitative", "scale": {"domain": [-0.332, 0.255], "reverse": true, "nice": false, "zero": false}, "axis": {"orient": "left", "title": null, "values": [-0.3, -0.2, -0.1, 0, 0.1, 0.2], "labelExpr": "round(datum.value * 10) % 2 == 0 ? '' + datum.value : ''"}}
   }},
  {"mark": {"type": "square", "size": 9, "color": "black", "opacity": 1},
   "encoding": {
    "x": {"field": "p", "type": "quantitative", "scale": {"domain": [0, 1.2], "nice": false, "zero": false}, "axis": {"orient": "top", "title": null, "labels": false, "values": [0, 0.25, 0.5, 0.75, 1]}},
    "y": {"field": "v", "type": "quantitative", "scale": {"domain": [-0.332, 0.255], "reverse": true, "nice": false, "zero": false}, "axis": {"orient": "right", "title": null, "labels": false, "values": [-0.3, -0.2, -0.1, 0, 0.1, 0.2]}}
   }}
 ],
 "resolve": {"axis": {"x": "independent", "y": "independent"}}
},
{
 "width": 266, "height": 62,
 "data": {"name": "swVI"},
 "layer": [
  {"mark": {"type": "square", "size": 9, "color": "black", "opacity": 1},
   "encoding": {
    "x": {"field": "p", "type": "quantitative", "scale": {"domain": [0, 1.2], "nice": false, "zero": false}, "axis": {"orient": "bottom", "title": "phase", "titleY": 31, "titleBaseline": "alphabetic", "values": [0, 0.25, 0.5, 0.75, 1], "labelExpr": "datum.value == 0.25 || datum.value == 0.75 ? '' : '' + datum.value"}},
    "y": {"field": "v", "type": "quantitative", "scale": {"domain": [-0.922, -0.487], "reverse": true, "nice": false, "zero": false}, "axis": {"orient": "left", "title": "Δ(V-I)", "values": [-0.9, -0.8, -0.7, -0.6, -0.5], "labelExpr": "round(datum.value * 10) % 2 == 0 ? '' + datum.value : ''", "titleX": -46, "titleY": 24, "titleAngle": 270, "titleBaseline": "middle", "titleAlign": "center"}}
   }},
  {"mark": {"type": "square", "size": 9, "color": "black", "opacity": 1},
   "encoding": {
    "x": {"field": "p", "type": "quantitative", "scale": {"domain": [0, 1.2], "nice": false, "zero": false}, "axis": {"orient": "top", "title": null, "labels": false, "values": [0, 0.25, 0.5, 0.75, 1]}},
    "y": {"field": "v", "type": "quantitative", "scale": {"domain": [-0.922, -0.487], "reverse": true, "nice": false, "zero": false}, "axis": {"orient": "right", "title": null, "labels": false, "values": [-0.9, -0.8, -0.7, -0.6, -0.5]}}
   }}
 ],
 "resolve": {"axis": {"x": "independent", "y": "independent"}}
},
{
 "width": 266, "height": 62,
 "data": {"name": "abVI"},
 "layer": [
  {"mark": {"type": "square", "size": 9, "color": "black", "opacity": 1},
   "encoding": {
    "x": {"field": "p", "type": "quantitative", "scale": {"domain": [0, 1.2], "nice": false, "zero": false}, "axis": {"orient": "bottom", "title": "phase", "titleY": 31, "titleBaseline": "alphabetic", "values": [0, 0.25, 0.5, 0.75, 1], "labelExpr": "datum.value == 0.25 || datum.value == 0.75 ? '' : '' + datum.value"}},
    "y": {"field": "v", "type": "quantitative", "scale": {"domain": [-0.505, 0.1], "reverse": true, "nice": false, "zero": false}, "axis": {"orient": "left", "title": null, "values": [-0.5, -0.4, -0.3, -0.2, -0.1, 0, 0.1], "labelExpr": "round(datum.value * 10) % 2 == 0 ? '' + datum.value : ''"}}
   }},
  {"mark": {"type": "square", "size": 9, "color": "black", "opacity": 1},
   "encoding": {
    "x": {"field": "p", "type": "quantitative", "scale": {"domain": [0, 1.2], "nice": false, "zero": false}, "axis": {"orient": "top", "title": null, "labels": false, "values": [0, 0.25, 0.5, 0.75, 1]}},
    "y": {"field": "v", "type": "quantitative", "scale": {"domain": [-0.505, 0.1], "reverse": true, "nice": false, "zero": false}, "axis": {"orient": "right", "title": null, "labels": false, "values": [-0.5, -0.4, -0.3, -0.2, -0.1, 0, 0.1]}}
   }}
 ],
 "resolve": {"axis": {"x": "independent", "y": "independent"}}
}
]
}
